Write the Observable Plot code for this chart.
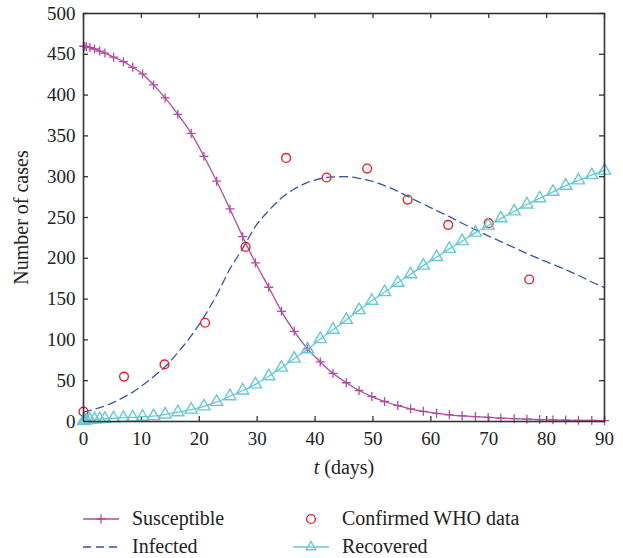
<!DOCTYPE html>
<html><head><meta charset="utf-8">
<script src="https://cdn.jsdelivr.net/npm/d3@7"></script>
<script src="https://cdn.jsdelivr.net/npm/@observablehq/plot@0.6"></script>
<style>
body{margin:0;background:#fff;}
#wrap{position:relative;width:623px;height:558px;font-family:"Liberation Serif",serif;background:#fff;}
#wrap svg{display:block;}
#legend{position:absolute;left:0;top:480px;}
</style></head><body><div id="wrap"></div>
<script>
// model output times (days)
const days = [0,0.2,0.5,1.1,1.9,2.8,3.7,5.2,6.9,8.5,10.2,12.1,14.1,16.3,18.6,20.8,23.0,25.3,27.5,29.7,32.0,34.2,36.4,38.7,40.9,43.1,45.4,47.6,49.8,52.0,54.3,56.5,58.7,61.0,63.2,65.4,67.7,69.9,72.1,74.4,76.6,78.8,81.1,83.3,85.5,87.8,90.0];
const susceptible = [460,459.7,459.2,458.2,456.5,454,451.5,446.5,441,434,426,412.5,396.5,376.5,353,325,294.5,260.5,226.5,194.5,164.5,135,110.5,89,73,59,47.5,38,30.5,24.5,19.5,15.5,12.5,10,8.2,7,6,5,4.2,3.5,2.9,2.4,2,1.7,1.4,1.2,1.0];
const infected = [11.3,11.7,12.3,13.5,15,17,19,23.5,29.5,36,44.5,55,67,84.5,105,128,155,187,212,239,258.5,274,285,293,297.5,299.8,300,298,294.5,289,282,274,266.5,258.5,251,243,235,227.5,220.5,213,206,199,192.5,186,179,171,164];
const recovered = [0.5,1,1.5,2,2.5,3,3.3,4,4.5,5,5.8,6.6,8.6,11.4,14.5,18.5,24,31,38,45.5,55.5,66,77,88.5,101,112.5,124.5,136.5,148,158.5,170,180.5,191,201.5,211.5,221,231.5,240,249,257.5,266,273.5,281.5,289,295.5,302,307.5];
// confirmed WHO data
const whoDays = [0,7,14,21,28,35,42,49,56,63,70,77];
const whoCases = [12,55,70,121,214,323,299,310,272,241,243,174];
// ticks
const xTicks = [0,10,20,30,40,50,60,70,80,90];
const yTicks = [0,50,100,150,200,250,300,350,400,450,500];

const colS = "#b24aa2", colI = "#3656ab", colW = "#ec1f26", colR = "#68c8d8", axisCol = "#333";
const W = 623, H = 480, mL = 83, mR = 19, mT = 13, mB = 59;
const innerW = W - mL - mR, innerH = H - mT - mB, tickLen = 5;

const model = days.map((t, i) => ({t, S: susceptible[i], I: infected[i], R: recovered[i]}));
const who = whoDays.map((t, i) => ({t, c: whoCases[i]}));

const chart = Plot.plot({
  width: W, height: H, marginLeft: mL, marginRight: mR, marginTop: mT, marginBottom: mB,
  style: {fontFamily: "Liberation Serif, serif", fontSize: "19px", color: "#222", background: "#fff"},
  x: {domain: [0, 90]},
  y: {domain: [0, 500]},
  marks: [
    Plot.axisX(xTicks, {tickSize: 0, tickPadding: 10, label: "t (days)", labelAnchor: "center", labelArrow: "none", labelOffset: 52}),
    Plot.axisY(yTicks, {tickSize: 0, tickPadding: 8, label: "Number of cases", labelAnchor: "center", labelArrow: "none", labelOffset: 70}),
    Plot.tickX(xTicks, {x: d => d, insetTop: innerH - tickLen, stroke: axisCol, strokeWidth: 1.3}),
    Plot.tickX(xTicks, {x: d => d, insetBottom: innerH - tickLen, stroke: axisCol, strokeWidth: 1.3}),
    Plot.tickY(yTicks, {y: d => d, insetRight: innerW - tickLen, stroke: axisCol, strokeWidth: 1.3}),
    Plot.tickY(yTicks, {y: d => d, insetLeft: innerW - tickLen, stroke: axisCol, strokeWidth: 1.3}),
    Plot.line(model, {x: "t", y: "S", stroke: colS, strokeWidth: 1.3, curve: "monotone-x"}),
    Plot.dot(model, {x: "t", y: "S", symbol: "plus", r: 3, stroke: colS, strokeWidth: 1.3}),
    Plot.line(model, {x: "t", y: "I", stroke: colI, strokeWidth: 1.3, strokeDasharray: "8,5", curve: "monotone-x"}),
    Plot.dot(who, {x: "t", y: "c", symbol: "circle", r: 4.4, stroke: colW, strokeWidth: 1.4, fill: "none"}),
    Plot.line(model, {x: "t", y: "R", stroke: colR, strokeWidth: 1.3, curve: "monotone-x"}),
    Plot.dot(model, {x: "t", y: "R", symbol: "triangle", r: 4.5, stroke: colR, strokeWidth: 1.4, fill: "none"}),
    Plot.frame({stroke: axisCol, strokeWidth: 1.6})
  ]
});

// axis label styling (italic t)
d3.select(chart).selectAll('[aria-label="x-axis label"] text').each(function() {
  const el = d3.select(this);
  el.text(null);
  el.append("tspan").attr("font-style", "italic").text("t");
  el.append("tspan").text(" (days)");
});
d3.select(chart).selectAll('[aria-label="x-axis label"], [aria-label="y-axis label"]').attr("font-size", "20px").attr("fill", "#222");

const wrap = document.getElementById("wrap");
wrap.appendChild(chart);

// legend
const legend = d3.create("svg").attr("id", "legend").attr("width", W).attr("height", 78)
  .attr("font-family", "Liberation Serif, serif").attr("font-size", "20px").attr("fill", "#222");
const entries = [
  {label: "Susceptible", x: 83, y: 39, color: colS, dash: null, sym: "plus", line: true},
  {label: "Confirmed WHO data", x: 293, y: 39, color: colW, dash: null, sym: "circle", line: false},
  {label: "Infected", x: 83, y: 67, color: colI, dash: "8,5", sym: null, line: true},
  {label: "Recovered", x: 293, y: 67, color: colR, dash: null, sym: "triangle", line: true}
];
for (const e of entries) {
  const g = legend.append("g");
  if (e.line) g.append("line").attr("x1", e.x).attr("x2", e.x + 36).attr("y1", e.y).attr("y2", e.y)
    .attr("stroke", e.color).attr("stroke-width", 1.3).attr("stroke-dasharray", e.dash);
  const cx = e.x + 18;
  if (e.sym === "plus") g.append("path").attr("d", `M${cx-4.5},${e.y}H${cx+4.5}M${cx},${e.y-4.5}V${e.y+4.5}`).attr("stroke", e.color).attr("stroke-width", 1.3);
  if (e.sym === "circle") g.append("circle").attr("cx", cx).attr("cy", e.y).attr("r", 4.4).attr("fill", "none").attr("stroke", e.color).attr("stroke-width", 1.4);
  if (e.sym === "triangle") g.append("path").attr("d", d3.symbol(d3.symbolTriangle2, 65)()).attr("transform", `translate(${cx},${e.y})`).attr("fill", "none").attr("stroke", e.color).attr("stroke-width", 1.4);
  g.append("text").attr("x", e.x + 49).attr("y", e.y + 6).text(e.label);
}
wrap.appendChild(legend.node());
</script>
</body></html>
